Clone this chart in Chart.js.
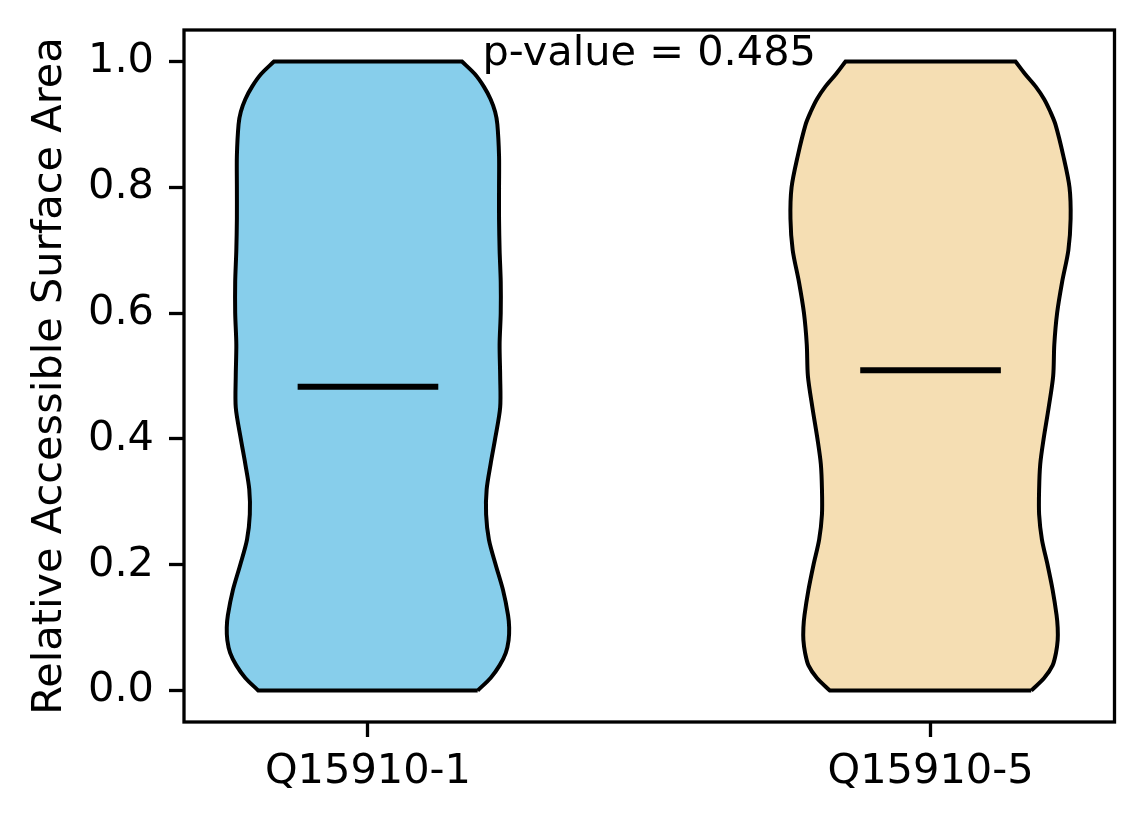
<!DOCTYPE html>
<html>
<head>
<meta charset="utf-8">
<title>Relative Accessible Surface Area</title>
<script src="https://cdn.jsdelivr.net/npm/chart.js@4.4.1/dist/chart.umd.min.js"></script>
<style>
  html, body { margin: 0; padding: 0; background: #fff; }
  #wrap { width: 1144px; height: 824px; }
</style>
</head>
<body>
<div id="wrap"><canvas id="violinChart"></canvas></div>
<script>
// Categories and where they sit on the x axis
const categories = ['Q15910-1', 'Q15910-5'];
const positions = [1, 2];
const fillColors = ['#87CEEB', '#F5DEB3'];

// Violin outline: y levels and half widths (x units)
const profileY = [0, 0.02, 0.04, 0.06, 0.08, 0.10, 0.12, 0.16, 0.20, 0.24, 0.28, 0.32, 0.36, 0.40,
  0.45, 0.50, 0.55, 0.60, 0.65, 0.70, 0.75, 0.80, 0.85, 0.90, 0.92, 0.94, 0.96, 0.98, 1.00];
const halfWidth1 = [0.195, 0.218, 0.234, 0.245, 0.250, 0.251, 0.249, 0.240, 0.227, 0.215, 0.210, 0.211,
  0.218, 0.226, 0.235, 0.235, 0.234, 0.236, 0.236, 0.234, 0.233, 0.233, 0.233, 0.230, 0.226, 0.218,
  0.206, 0.190, 0.167];
const halfWidth5 = [0.179, 0.202, 0.217, 0.223, 0.226, 0.226, 0.224, 0.217, 0.208, 0.198, 0.193, 0.193,
  0.195, 0.201, 0.210, 0.218, 0.220, 0.225, 0.234, 0.245, 0.249, 0.247, 0.236, 0.222, 0.213, 0.202,
  0.187, 0.168, 0.151];
const halfWidths = [halfWidth1, halfWidth5];

// Median of each group and the half length of its marker
const medians = [0.483, 0.509];
const medianHalf = 0.125;

const yTickValues = [0, 0.2, 0.4, 0.6, 0.8, 1.0];
const pValueText = 'p-value = 0.485';
const pValueX = 1.5;
const pValueY = 0.994;

const FONT = 'DejaVu Sans';
Chart.defaults.font.family = FONT;
Chart.defaults.color = '#000';

// Build a closed outline; the cut ends are repeated so they stay sharp
function violinOutline(pos, widths) {
  const right = profileY.map((y, i) => ({ x: pos + widths[i], y: y }));
  const left = profileY.map((y, i) => ({ x: pos - widths[i], y: y })).reverse();
  const top = right[right.length - 1];
  const bottomLeft = left[left.length - 1];
  return [
    ...right, { ...top },
    { ...left[0] }, ...left,
    { ...bottomLeft }, { ...right[0] }
  ];
}

const violinSets = positions.map((pos, i) => ({
  label: categories[i],
  data: violinOutline(pos, halfWidths[i]),
  showLine: true,
  fill: 'shape',
  backgroundColor: fillColors[i],
  borderColor: '#000',
  borderWidth: 4,
  tension: 0.3,
  pointRadius: 0,
  order: 1
}));

const medianSets = positions.map((pos, i) => ({
  label: categories[i] + ' median',
  data: [{ x: pos - medianHalf, y: medians[i] }, { x: pos + medianHalf, y: medians[i] }],
  showLine: true,
  borderColor: '#000',
  borderWidth: 6,
  borderCapStyle: 'butt',
  pointRadius: 0,
  order: 0
}));

// Full box around the plot area
const framePlugin = {
  id: 'frame',
  afterDraw(chart) {
    const { ctx, chartArea: a } = chart;
    ctx.save();
    ctx.strokeStyle = '#000';
    ctx.lineWidth = 3.3;
    ctx.strokeRect(a.left, a.top, a.right - a.left, a.bottom - a.top);
    ctx.restore();
  }
};

const pValuePlugin = {
  id: 'pvalue',
  afterDatasetsDraw(chart) {
    const { ctx, scales } = chart;
    ctx.save();
    ctx.font = '41.5px "' + FONT + '"';
    ctx.fillStyle = '#000';
    ctx.textAlign = 'center';
    ctx.textBaseline = 'alphabetic';
    ctx.fillText(pValueText, scales.x.getPixelForValue(pValueX), scales.y.getPixelForValue(pValueY));
    ctx.restore();
  }
};

// keep label overhang from pushing the plot area around
function noOverhang(scale) {
  scale.paddingTop = 0;
  scale.paddingBottom = 0;
  scale.paddingLeft = 0;
  scale.paddingRight = 0;
}

new Chart(document.getElementById('violinChart'), {
  type: 'scatter',
  data: { datasets: [...medianSets, ...violinSets] },
  options: {
    responsive: true,
    maintainAspectRatio: false,
    animation: false,
    layout: { padding: { left: 0, top: 30, right: 29.5, bottom: 0 } },
    plugins: { legend: { display: false }, tooltip: { enabled: false } },
    scales: {
      x: {
        type: 'linear',
        min: 0.673,
        max: 2.327,
        afterFit(scale) { scale.height = 102; noOverhang(scale); },
        afterBuildTicks(scale) { scale.ticks = positions.map(v => ({ value: v })); },
        ticks: {
          callback: v => categories[positions.indexOf(v)],
          font: { size: 41.5 },
          padding: 10,
          maxRotation: 0,
          autoSkip: false
        },
        grid: { drawOnChartArea: false, drawTicks: true, tickLength: 15, tickWidth: 3.3, tickColor: '#000' },
        border: { display: false }
      },
      y: {
        type: 'linear',
        min: -0.05,
        max: 1.05,
        afterFit(scale) { scale.width = 184; noOverhang(scale); },
        afterBuildTicks(scale) { scale.ticks = yTickValues.map(v => ({ value: v })); },
        ticks: {
          callback: v => v.toFixed(1),
          font: { size: 41.5 },
          padding: 15
        },
        grid: { drawOnChartArea: false, drawTicks: true, tickLength: 15, tickWidth: 3.3, tickColor: '#000' },
        border: { display: false },
        title: {
          display: true,
          text: 'Relative Accessible Surface Area',
          font: { size: 41.5 },
          padding: { top: 25, bottom: 0 }
        }
      }
    }
  },
  plugins: [framePlugin, pValuePlugin]
});
</script>
</body>
</html>
